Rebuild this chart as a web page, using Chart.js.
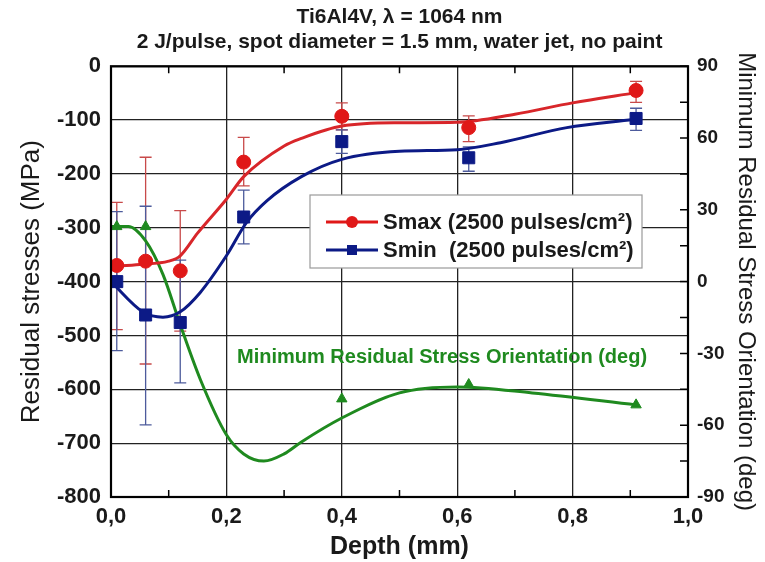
<!DOCTYPE html>
<html>
<head>
<meta charset="utf-8">
<script src="https://cdn.jsdelivr.net/npm/chart.js@4.4.0/dist/chart.umd.min.js"></script>
<style>
html, body { margin: 0; padding: 0; background: #fff; }
#wrap { width: 765px; height: 562px; }
</style>
</head>
<body>
<div id="wrap"><canvas id="chart1"></canvas></div>
<script>
// measured points
const depths = [0.01, 0.06, 0.12, 0.23, 0.40, 0.62, 0.91];
const smax = [-370, -362, -380, -178, -93, -114, -45];
const smaxHi = [-253, -169, -268, -132, -68, -92, -28];
const smaxLo = [-489, -553, -492, -222, -118, -140, -67];
const smin = [-400, -462, -476, -280, -140, -170, -97];
const sminHi = [-270, -260, -360, -230, -118, -150, -78];
const sminLo = [-528, -666, -588, -330, -162, -195, -119];
const angleDepths = [0.01, 0.06, 0.40, 0.62, 0.91];
const angles = [23, 23, -49, -43, -51.5];

// fitted curves
const smaxFitX = [0, 0.05, 0.1, 0.12, 0.15, 0.2, 0.23, 0.3, 0.33, 0.4, 0.5, 0.6, 0.7, 0.8, 0.91];
const smaxFitY = [-372, -368, -362, -352, -310, -247, -205, -148, -134, -111, -105, -104, -89, -68, -49];
const sminFitX = [0, 0.055, 0.09, 0.12, 0.154, 0.2, 0.235, 0.27, 0.33, 0.4, 0.5, 0.6, 0.675, 0.79, 0.905];
const sminFitY = [-400, -456, -466, -456, -421, -352, -290, -250, -205, -173, -158, -155, -142, -114, -99];
const angleFitX = [0, 0.03, 0.06, 0.09, 0.12, 0.155, 0.2, 0.23, 0.265, 0.3, 0.33, 0.4, 0.5, 0.6, 0.73, 0.91];
const angleFitY = [23, 23, 17, 3, -18, -41, -64, -72, -75, -72, -67, -57, -46.5, -44, -46.5, -51.5];

const xTicks = ['0,0', '0,2', '0,4', '0,6', '0,8', '1,0'];

const RED = '#e01818';
const BLUE = '#0c1a86';
const GREEN = '#1f8a1f';
const FONT = "'Liberation Sans', Arial, sans-serif";

function pts(xs, ys) {
  return xs.map((x, i) => ({ x, y: ys[i] }));
}

const errorBars = {
  id: 'errorBars',
  beforeDatasetsDraw(chart) {
    const { ctx } = chart;
    const xs = chart.scales.x;
    const ys = chart.scales.y;
    const sets = [
      { lo: smaxLo, hi: smaxHi, color: '#c84a4a' },
      { lo: sminLo, hi: sminHi, color: '#4d5b9c' },
    ];
    ctx.save();
    ctx.lineWidth = 1.3;
    sets.forEach(function drawSet(s) {
      ctx.strokeStyle = s.color;
      depths.forEach(function drawBar(d, i) {
        const px = xs.getPixelForValue(d);
        const top = ys.getPixelForValue(s.hi[i]);
        const bot = ys.getPixelForValue(s.lo[i]);
        ctx.beginPath();
        ctx.moveTo(px, top);
        ctx.lineTo(px, bot);
        ctx.moveTo(px - 6, top);
        ctx.lineTo(px + 6, top);
        ctx.moveTo(px - 6, bot);
        ctx.lineTo(px + 6, bot);
        ctx.stroke();
      });
    });
    ctx.restore();
  },
};

const frame = {
  id: 'frame',
  afterDatasetsDraw(chart) {
    const { ctx, chartArea: a } = chart;
    const xs = chart.scales.x;
    const y2 = chart.scales.y2;
    ctx.save();
    ctx.strokeStyle = '#000';
    ctx.lineWidth = 1.5;
    // minor ticks, inward
    ctx.beginPath();
    for (let v = 0.1; v < 1; v += 0.2) {
      const px = xs.getPixelForValue(v);
      ctx.moveTo(px, a.bottom);
      ctx.lineTo(px, a.bottom - 7);
      ctx.moveTo(px, a.top);
      ctx.lineTo(px, a.top + 7);
    }
    for (let v = -90; v <= 90; v += 15) {
      const py = y2.getPixelForValue(v);
      ctx.moveTo(a.right, py);
      ctx.lineTo(a.right - 8, py);
    }
    ctx.stroke();
    ctx.lineWidth = 2.2;
    ctx.strokeRect(a.left, a.top, a.right - a.left, a.bottom - a.top);
    ctx.restore();
  },
};

const labels = {
  id: 'labels',
  afterDraw(chart) {
    const { ctx } = chart;
    ctx.save();
    // orientation note
    ctx.fillStyle = GREEN;
    ctx.font = 'bold 20px ' + FONT;
    ctx.textBaseline = 'middle';
    ctx.fillText('Minimum Residual Stress Orientation (deg)', 237, 357);
    // legend box
    const bx = 310;
    const by = 195;
    ctx.fillStyle = '#fff';
    ctx.fillRect(bx, by, 332, 73);
    ctx.strokeStyle = '#9a9a9a';
    ctx.lineWidth = 1.2;
    ctx.strokeRect(bx, by, 332, 73);
    const rows = [
      { text: 'Smax (2500 pulses/cm²)', color: RED, y: 222, shape: 'circle' },
      { text: 'Smin  (2500 pulses/cm²)', color: BLUE, y: 250, shape: 'square' },
    ];
    rows.forEach(function drawRow(r) {
      ctx.strokeStyle = r.color;
      ctx.lineWidth = 3;
      ctx.beginPath();
      ctx.moveTo(326, r.y);
      ctx.lineTo(378, r.y);
      ctx.stroke();
      ctx.fillStyle = r.color;
      if (r.shape === 'circle') {
        ctx.beginPath();
        ctx.arc(352, r.y, 6, 0, Math.PI * 2);
        ctx.fill();
      } else {
        ctx.fillRect(347, r.y - 5, 10, 10);
      }
      ctx.fillStyle = '#1a1a1a';
      ctx.font = 'bold 22px ' + FONT;
      ctx.fillText(r.text, 383, r.y + 1);
    });
    ctx.restore();
  },
};

const data = {
  datasets: [
    {
      label: 'Smax',
      data: pts(depths, smax),
      showLine: false,
      pointStyle: 'circle',
      pointRadius: 7,
      backgroundColor: RED,
      borderColor: RED,
      yAxisID: 'y',
      order: 1,
    },
    {
      label: 'Smin',
      data: pts(depths, smin),
      showLine: false,
      pointStyle: 'rect',
      pointRadius: 8.5,
      backgroundColor: BLUE,
      borderColor: BLUE,
      yAxisID: 'y',
      order: 2,
    },
    {
      label: 'Orientation',
      data: pts(angleDepths, angles),
      showLine: false,
      pointStyle: 'triangle',
      pointRadius: 6,
      backgroundColor: GREEN,
      borderColor: GREEN,
      yAxisID: 'y2',
      order: 3,
    },
    {
      label: 'Smax fit',
      data: pts(smaxFitX, smaxFitY),
      showLine: true,
      pointRadius: 0,
      borderColor: '#d8262a',
      borderWidth: 3,
      cubicInterpolationMode: 'monotone',
      yAxisID: 'y',
      order: 4,
    },
    {
      label: 'Smin fit',
      data: pts(sminFitX, sminFitY),
      showLine: true,
      pointRadius: 0,
      borderColor: BLUE,
      borderWidth: 3,
      cubicInterpolationMode: 'monotone',
      yAxisID: 'y',
      order: 5,
    },
    {
      label: 'Orientation fit',
      data: pts(angleFitX, angleFitY),
      showLine: true,
      pointRadius: 0,
      borderColor: GREEN,
      borderWidth: 3,
      cubicInterpolationMode: 'monotone',
      yAxisID: 'y2',
      order: 6,
    },
  ],
};

const options = {
  responsive: true,
  maintainAspectRatio: false,
  devicePixelRatio: 1,
  animation: false,
  layout: { padding: 0 },
  plugins: {
    legend: { display: false },
    tooltip: { enabled: false },
    title: {
      display: true,
      text: ['Ti6Al4V, λ = 1064 nm', '2 J/pulse, spot diameter = 1.5 mm, water jet, no paint'],
      color: '#1a1a1a',
      font: { family: FONT, size: 21, weight: 'bold', lineHeight: 1.22 },
      padding: { top: 4, bottom: 11 },
      fullSize: false,
    },
  },
  scales: {
    x: {
      type: 'linear',
      min: 0,
      max: 1,
      afterFit(scale) { scale.height = 65; },
      grid: { color: '#222', lineWidth: 1.3, drawTicks: false },
      border: { display: false },
      ticks: {
        stepSize: 0.2,
        padding: 7,
        color: '#1a1a1a',
        font: { family: FONT, size: 22, weight: 'bold' },
        callback(value) {
          return xTicks[Math.round(value * 5)];
        },
      },
      title: {
        display: true,
        text: 'Depth (mm)',
        color: '#1a1a1a',
        font: { family: FONT, size: 25, weight: 'bold' },
        padding: { top: 0, bottom: 0 },
      },
    },
    y: {
      position: 'left',
      min: -800,
      max: 0,
      afterFit(scale) { scale.width = 111; },
      grid: { color: '#222', lineWidth: 1.3, drawTicks: false },
      border: { display: false },
      ticks: {
        stepSize: 100,
        padding: 10,
        color: '#1a1a1a',
        font: { family: FONT, size: 22, weight: 'bold' },
      },
      title: {
        display: true,
        text: 'Residual stresses (MPa)',
        color: '#1a1a1a',
        font: { family: FONT, size: 26, weight: 'normal' },
        padding: { top: 16, bottom: 0 },
      },
    },
    y2: {
      position: 'right',
      min: -90,
      max: 90,
      afterFit(scale) { scale.width = 77; },
      grid: { display: false, drawTicks: false },
      border: { display: false },
      ticks: {
        stepSize: 30,
        padding: 9,
        color: '#1a1a1a',
        font: { family: FONT, size: 19, weight: 'bold' },
      },
      title: {
        display: true,
        text: 'Minimum Residual Stress Orientation (deg)',
        color: '#1a1a1a',
        font: { family: FONT, size: 24, weight: 'normal' },
        padding: { top: 5, bottom: 0 },
      },
    },
  },
};

const ctx = document.getElementById('chart1').getContext('2d');
const chart1 = new Chart(ctx, {
  type: 'scatter',
  data,
  options,
  plugins: [errorBars, frame, labels],
});
</script>
</body>
</html>
